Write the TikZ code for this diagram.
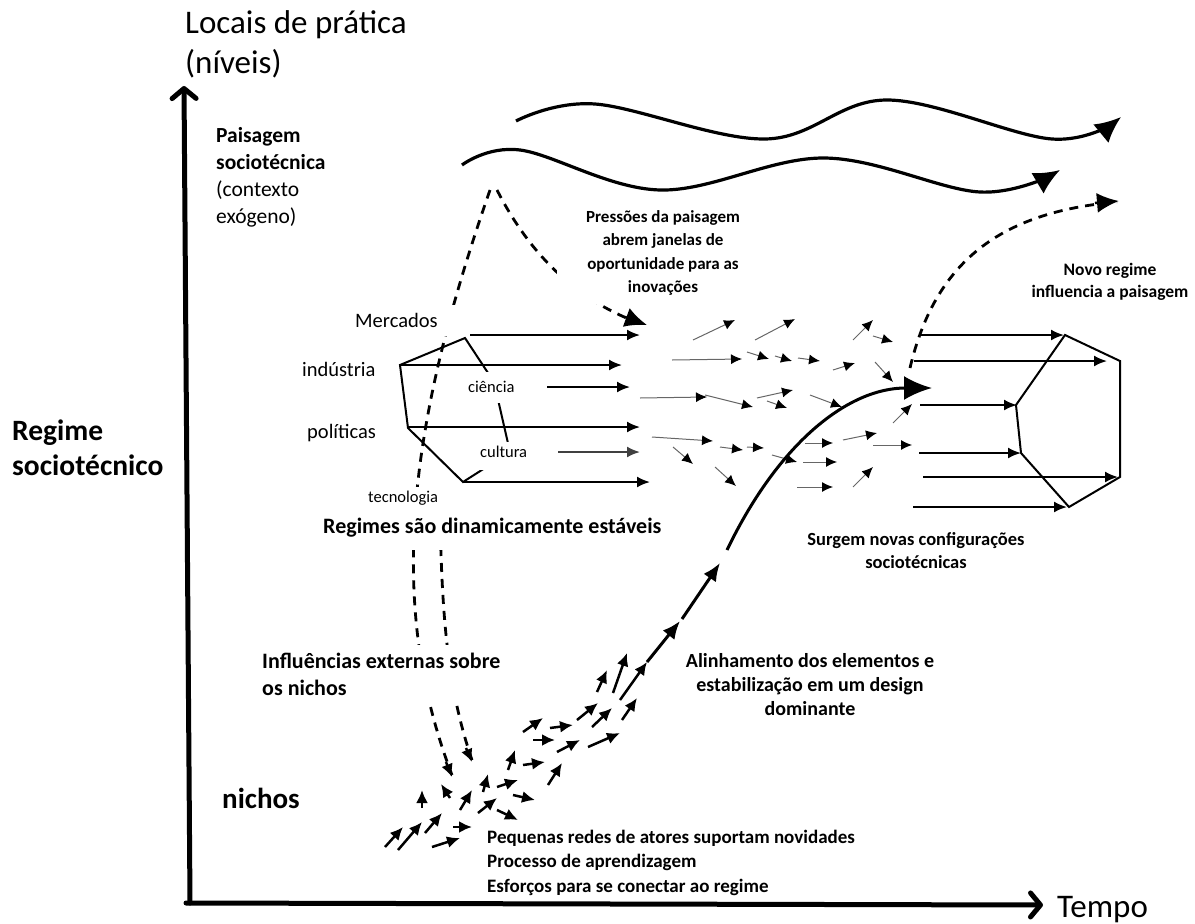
\documentclass[tikz,border=0pt]{standalone}
\usepackage{fontspec}
\setmainfont{Carlito}
\usetikzlibrary{arrows.meta}
\newcommand\setfs[2]{\fontsize{#1pt}{#2pt}\selectfont}
\begin{document}
\begin{tikzpicture}[x=1pt,y=-1pt,
  axis/.style={line width=5pt, line cap=round, line join=round, -{Straight Barb[length=10pt,width=24pt,round]}},
  wave/.style={line width=3.2pt, -{Latex[length=26pt,width=24pt]}},
  dsh/.style={line width=2.8pt, dash pattern=on 9pt off 7pt},
  reg/.style={line width=2pt, -{Latex[length=13pt,width=11pt]}},
  frame/.style={line width=2pt, line join=miter},
  mid/.style={line width=1pt, draw=black!60, -{Latex[length=11pt,width=10pt,color=black]}},
  nic/.style={line width=2.5pt, -{Latex[length=13pt,width=12pt]}},
  chain/.style={line width=3pt, -{Latex[length=18pt,width=15pt]}},
  plain/.style={inner sep=0pt},
  bold/.style={inner sep=0pt, font=\bfseries},
]
\path[use as bounding box] (0,0) rectangle (1195,924);

% axes
\coordinate (O) at (190,903);
\coordinate (ytop) at (184,86);
\coordinate (xend) at (1043,905);
\draw[axis] (O) -- (ytop);
\draw[axis] (186,903) -- (xend);

% landscape waves
\draw[wave] plot[smooth, tension=0.6] coordinates {(516,121) (595,104) (765,139) (887,100) (1052,139) (1121,117)};
\draw[wave] plot[smooth, tension=0.6] coordinates {(462,165) (520,150) (660,190) (824,158) (980,192) (1060,170)};

% landscape pressure (dashed)
\draw[dsh] (490,190) .. controls (410,420) and (385,600) .. (452,775);
\draw[dsh] (440,515) .. controls (442,620) and (448,690) .. (472,760);
\draw[dsh] (497,190) .. controls (525,245) and (570,300) .. (645,325);
\draw[dsh] (910,368) .. controls (935,262) and (1000,212) .. (1117,202);
\draw[line width=2.5pt,-{Latex[length=13pt,width=12pt]}] (446,762) -- (452,777);
\draw[line width=2.5pt,-{Latex[length=13pt,width=12pt]}] (466,748) -- (472,762);
\draw[line width=2.5pt,-{Latex[length=22pt,width=20pt]}] (625,317) -- (647,325);
\draw[line width=2.5pt,-{Latex[length=22pt,width=20pt]}] (1095,203) -- (1119,201);

% existing regime
\draw[frame] (465,338) -- (400,365) -- (408,428) -- (463,482) -- (510,452) -- (494,382) -- cycle;
\draw[reg] (470,335) -- (640,335);
\draw[reg] (400,365) -- (622,365);
\draw[reg] (547,387) -- (630,387);
\draw[reg] (408,427) -- (640,427);
\draw[reg, draw=black!75] (558,452) -- (640,452);
\draw[reg] (463,482) -- (650,482);

% new regime
\draw[frame] (1065,335) -- (1120,361) -- (1120,477) -- (1069,507) -- (1021,453) -- (1016,405) -- cycle;
\draw[reg] (920,335) -- (1064,335);
\draw[reg] (914,361) -- (1107,361);
\draw[reg] (920,405) -- (1017,405);
\draw[reg] (919,453) -- (1021,453);
\draw[reg] (923,477) -- (1118,477);
\draw[reg] (913,507) -- (1067,507);

% windows of opportunity: loose arrows
\foreach \a/\b/\c/\d in {693/340/735/320, 755/340/795/319, 853/340/873/320, 873/336/893/342,
  672/360/742/359, 747/352/769/359, 775/356/792/361, 798/358/820/361, 833/370/855/363, 875/362/893/382,
  640/398/707/397, 705/395/753/407, 757/398/793/390, 767/401/787/408, 810/395/842/407, 893/423/912/404,
  652/437/713/441, 673/447/693/464, 720/447/743/450, 747/447/764/448, 772/455/797/462, 805/443/833/443,
  843/440/877/433, 873/445/912/445,
  715/467/736/486, 803/462/837/462, 797/487/833/487, 853/487/873/467}
  \draw[mid] (\a,\b) -- (\c,\d);

% niches
\foreach \a/\b/\c/\d in {385/847/403/827, 398/850/422/822, 425/833/442/813, 432/847/460/838,
  453/827/472/827, 422/808/422/790, 450/798/441/784, 460/810/472/790, 478/813/497/798,
  483/792/488/774, 497/787/518/780, 497/810/518/820, 513/795/535/800, 508/770/515/750,
  523/765/545/762, 548/785/562/763, 533/740/555/740, 523/732/543/718, 557/752/580/740,
  550/728/573/725, 577/720/598/703, 592/727/612/708, 588/747/620/733, 622/720/637/698,
  597/692/607/670, 613/693/627/653, 620/700/647/662}
  \draw[nic] (\a,\b) -- (\c,\d);

% emerging trajectory
\draw[chain] (647,662) -- (680,621);
\draw[chain] (682,619) -- (720,563);
\draw[line width=3pt, -{Latex[length=28pt,width=24pt]}] (727,550) .. controls (780,440) and (850,388) .. (932,388);

% white boxes behind labels
\fill[white] (343,305) rectangle (470,336);
\fill[white] (452,372) rectangle (543,403);
\fill[white] (455,442) rectangle (543,470);
\fill[white] (360,487) rectangle (482,512);
\fill[white] (300,512) rectangle (700,550);
\fill[white] (557,196) rectangle (802,304);
\fill[white] (255,645) rectangle (510,705);
\fill[white] (478,822) rectangle (900,898);
\fill[white] (762,517) rectangle (1075,595);
\fill[white] (1025,255) rectangle (1195,305);

% labels (multi-line nodes sit on the baseline of their last line)
\node[plain, anchor=base west, align=left, font=\setfs{33}{40}] (title) at (185,73) {Locais de prática\\(níveis)};
\node[plain, anchor=base west, font=\setfs{33}{40}] (tempo) at (1057,917) {Tempo};
\node[plain, anchor=base west, align=left, font=\setfs{21.5}{27}] (pais) at (216,223) {\textbf{Paisagem}\\\textbf{sociotécnica}\\(contexto\\exógeno)};
\node[bold, anchor=base west, align=left, font=\bfseries\setfs{29.5}{35}] (regime) at (12,475) {Regime\\sociotécnico};
\node[bold, anchor=base west, font=\bfseries\setfs{29}{35}] (nichos) at (222,808) {nichos};
\node[plain, anchor=base west, font=\setfs{20.5}{25}] (merc) at (355,327) {Mercados};
\node[plain, anchor=base west, font=\setfs{20.5}{25}] (ind) at (302,376) {indústria};
\node[plain, anchor=base west, font=\setfs{20.5}{25}] (pol) at (307,438) {políticas};
\node[plain, anchor=base west, font=\setfs{16.5}{20}] (cien) at (468,392) {ciência};
\node[plain, anchor=base west, font=\setfs{16.5}{20}] (cult) at (480,457) {cultura};
\node[plain, anchor=base west, font=\setfs{16.5}{20}] (tec) at (368,502) {tecnologia};
\node[bold, anchor=base west, font=\bfseries\setfs{22}{27}] (estav) at (323,533) {Regimes são dinamicamente estáveis};
\node[bold, anchor=base, align=center, font=\bfseries\setfs{17}{23.5}] (press) at (663,292.5) {Pressões da paisagem\\abrem janelas de\\oportunidade para as\\inovações};
\node[bold, anchor=base, align=center, font=\bfseries\setfs{17.5}{22}] (novo) at (1110,297) {Novo regime\\influencia a paisagem};
\node[bold, anchor=base, align=center, font=\bfseries\setfs{18.5}{23}] (surg) at (916,568) {Surgem novas configurações\\sociotécnicas};
\node[bold, anchor=base west, align=left, font=\bfseries\setfs{22}{27}] (infl) at (262,695) {Influências externas sobre\\os nichos};
\node[bold, anchor=base, align=center, font=\bfseries\setfs{20}{24}] (alin) at (810,715) {Alinhamento dos elementos e\\estabilização em um design\\dominante};
\node[bold, anchor=base west, align=left, font=\bfseries\setfs{19}{24.5}] (peq) at (487,892) {Pequenas redes de atores suportam novidades\\Processo de aprendizagem\\Esforços para se conectar ao regime};
\end{tikzpicture}
\end{document}
